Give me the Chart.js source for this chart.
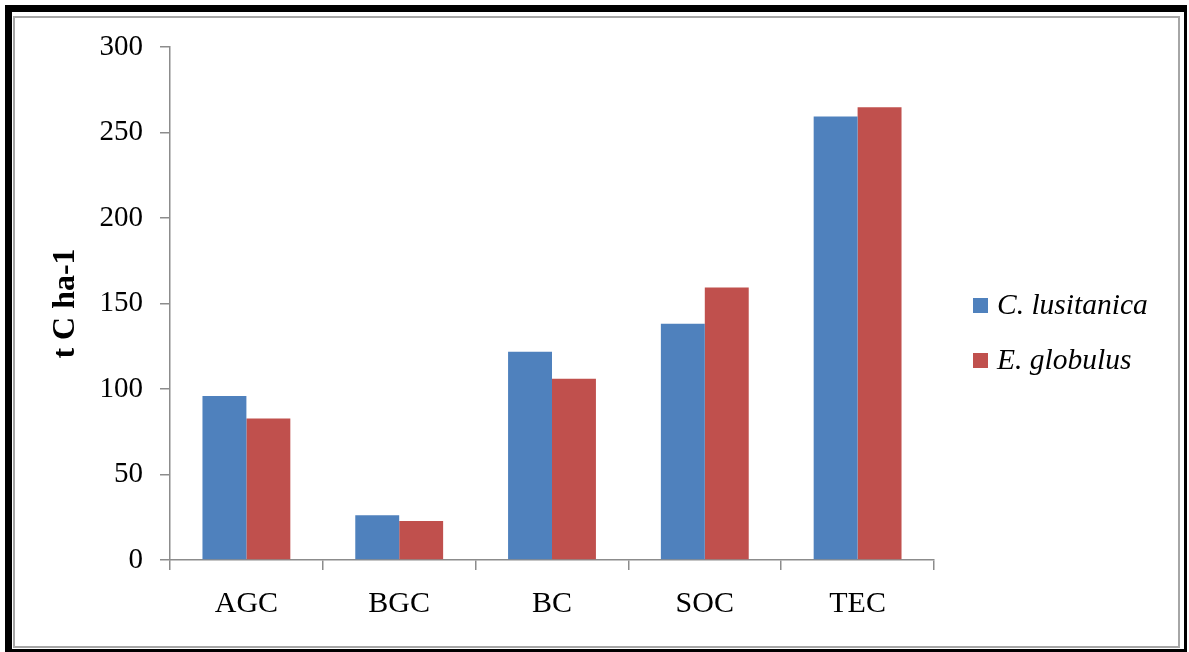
<!DOCTYPE html>
<html>
<head>
<meta charset="utf-8">
<title>Carbon stocks</title>
<script src="https://cdn.jsdelivr.net/npm/chart.js@4/dist/chart.umd.min.js"></script>
<style>
  html, body { margin: 0; padding: 0; background: #fff; }
  #wrap { position: relative; width: 1189px; height: 652px; overflow: hidden; background: #fff; }
  #outerFrame {
    position: absolute; left: 5px; top: 5px; width: 1172px; height: 637px;
    border-style: solid; border-color: #000; border-width: 7px 3px 3px 7px;
  }
  #innerFrame {
    position: absolute; left: 13px; top: 16px; width: 1163px; height: 628px;
    border: 2px solid #a6a6a6;
  }
  #chart { position: absolute; left: 0; top: 0; }
</style>
</head>
<body>
<div id="wrap">
  <div id="outerFrame"></div>
  <div id="innerFrame"></div>
  <canvas id="chart" width="1189" height="652"></canvas>
</div>
<script>
// Carbon pools per plantation species (t C ha-1)
const categories = ['AGC', 'BGC', 'BC', 'SOC', 'TEC'];
const cLusitanica = [95.9, 26.1, 121.8, 138.1, 259.3];
const eGlobulus = [82.7, 22.8, 106.0, 159.3, 264.8];
const seriesNames = ['C. lusitanica', 'E. globulus'];
const yTicks = [0, 50, 100, 150, 200, 250, 300];

const SERIF = '"Liberation Serif", "Times New Roman", serif';
const AXIS_GREY = '#8c8c8c';

// Legend drawn at the right of the plot, one square swatch per dataset
const sideLegend = {
  id: 'sideLegend',
  afterDraw(chart, args, opts) {
    const ctx = chart.ctx;
    ctx.save();
    ctx.font = 'italic ' + opts.fontSize + 'px ' + SERIF;
    ctx.textBaseline = 'middle';
    ctx.textAlign = 'left';
    chart.data.datasets.forEach((ds, i) => {
      const y = opts.top + i * opts.spacing;
      ctx.fillStyle = ds.backgroundColor;
      ctx.fillRect(opts.left, y - opts.box / 2, opts.box, opts.box);
      ctx.fillStyle = '#000';
      ctx.fillText(ds.label, opts.left + opts.box + 9, y + 1);
    });
    ctx.restore();
  }
};

new Chart(document.getElementById('chart'), {
  type: 'bar',
  data: {
    labels: categories,
    datasets: [
      { label: seriesNames[0], data: cLusitanica, backgroundColor: '#4f81bd' },
      { label: seriesNames[1], data: eGlobulus, backgroundColor: '#c0504d' }
    ]
  },
  options: {
    responsive: false,
    animation: false,
    events: [],
    layout: { padding: { left: 0, top: 47, right: 255, bottom: 0 } },
    datasets: { bar: { categoryPercentage: 0.575, barPercentage: 1.0 } },
    plugins: {
      legend: { display: false },
      tooltip: { enabled: false },
      sideLegend: { left: 973, top: 305.5, spacing: 55, box: 15, fontSize: 29.5 }
    },
    scales: {
      x: {
        afterFit(scale) { scale.height = 92; },
        grid: {
          offset: true, drawOnChartArea: false, drawTicks: true,
          tickLength: 10, color: AXIS_GREY, lineWidth: 1.5
        },
        border: { display: true, color: AXIS_GREY, width: 1.5 },
        ticks: { color: '#000', padding: 16, font: { family: SERIF, size: 30 } }
      },
      y: {
        min: 0, max: 300,
        afterFit(scale) { scale.width = 170; },
        afterBuildTicks(scale) { scale.ticks = yTicks.map(v => ({ value: v })); },
        grid: {
          drawOnChartArea: false, drawTicks: true,
          tickLength: 10, color: AXIS_GREY, lineWidth: 1.5
        },
        border: { display: true, color: AXIS_GREY, width: 1.5 },
        ticks: { color: '#000', padding: 17, font: { family: SERIF, size: 29 } },
        title: {
          display: true, text: 't C ha-1', color: '#000',
          padding: { top: 47, bottom: 0 },
          font: { family: SERIF, size: 32, weight: 'bold' }
        }
      }
    }
  },
  plugins: [sideLegend]
});
</script>
</body>
</html>
